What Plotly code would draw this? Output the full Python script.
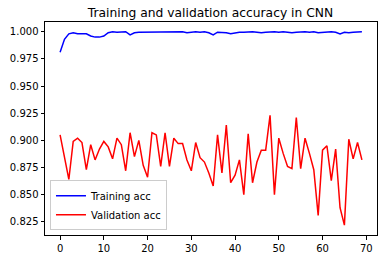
import plotly.graph_objects as go

epochs = list(range(70))

train_acc = [0.981, 0.993, 0.998, 0.999, 0.998, 0.998, 0.998, 0.996, 0.995, 0.995,
             0.996, 0.999, 1.0, 0.9995, 1.0, 1.0, 0.997, 0.999, 0.9995, 0.9995,
             1.0, 1.0, 0.9995, 1.0, 0.9995, 1.0, 1.0, 0.9995, 1.0, 0.999,
             0.9995, 1.0, 0.9995, 1.0, 0.999, 0.997, 0.9995, 0.9995, 0.999, 0.998,
             0.999, 0.9995, 0.9995, 1.0, 1.0, 0.9995, 0.999, 0.9995, 1.0, 1.0,
             0.9995, 1.0, 0.9995, 0.999, 0.9995, 1.0, 1.0, 0.9995, 1.0, 0.999,
             0.9995, 0.9995, 1.0, 0.9995, 0.998, 0.9995, 0.999, 0.9995, 1.0, 1.0]

val_acc = [0.905, 0.883, 0.864, 0.899, 0.902, 0.898, 0.873, 0.896, 0.882, 0.892,
           0.899, 0.894, 0.883, 0.902, 0.896, 0.872, 0.907, 0.885, 0.900, 0.877,
           0.866, 0.907, 0.905, 0.876, 0.907, 0.876, 0.902, 0.897, 0.897, 0.882,
           0.872, 0.898, 0.884, 0.880, 0.870, 0.858, 0.905, 0.870, 0.914, 0.861,
           0.868, 0.882, 0.850, 0.906, 0.861, 0.880, 0.891, 0.891, 0.923, 0.850,
           0.902, 0.888, 0.876, 0.874, 0.921, 0.874, 0.902, 0.888, 0.873, 0.831,
           0.891, 0.895, 0.863, 0.892, 0.838, 0.822, 0.901, 0.883, 0.898, 0.882]

x_ticks = [0, 10, 20, 30, 40, 50, 60, 70]
y_ticks = [0.825, 0.850, 0.875, 0.900, 0.925, 0.950, 0.975, 1.000]
y_ticklabels = ["0.825", "0.850", "0.875", "0.900", "0.925", "0.950", "0.975", "1.000"]

fig = go.Figure()
fig.add_trace(go.Scatter(x=epochs, y=train_acc, mode="lines", name="Training acc",
                         line=dict(color="#0000ff", width=1.5)))
fig.add_trace(go.Scatter(x=epochs, y=val_acc, mode="lines", name="Validation acc",
                         line=dict(color="#ff0000", width=1.5)))

axis_common = dict(showgrid=False, zeroline=False, showline=True, linecolor="black",
                   linewidth=1, mirror=True, ticks="outside", ticklen=3.5,
                   tickwidth=0.8, tickcolor="black",
                   tickfont=dict(family="DejaVu Sans", size=10, color="black"))

fig.update_layout(
    width=388, height=264,
    margin=dict(l=43, r=10, t=22, b=24),
    paper_bgcolor="white", plot_bgcolor="white",
    title=dict(text="Training and validation accuracy in CNN",
               font=dict(family="DejaVu Sans", size=12.3, color="black"),
               x=(43 + 378) / 2 / 388, xanchor="center",
               y=1 - 13 / 264, yanchor="middle"),
    xaxis=dict(range=[-3.45, 72.45], tickvals=x_ticks, **axis_common),
    yaxis=dict(range=[0.8129, 1.0089], tickvals=y_ticks, ticktext=y_ticklabels,
               **axis_common),
    legend=dict(x=0.015, y=0.022, xanchor="left", yanchor="bottom",
                bgcolor="rgba(255,255,255,0.8)", bordercolor="#cccccc", borderwidth=1,
                font=dict(family="DejaVu Sans", size=10, color="black"),
                tracegroupgap=0, itemwidth=30),
    showlegend=True,
)

fig.write_html("out.html",
               config={"displayModeBar": False},
               post_script="document.body.style.margin='0';document.body.style.padding='0';")
